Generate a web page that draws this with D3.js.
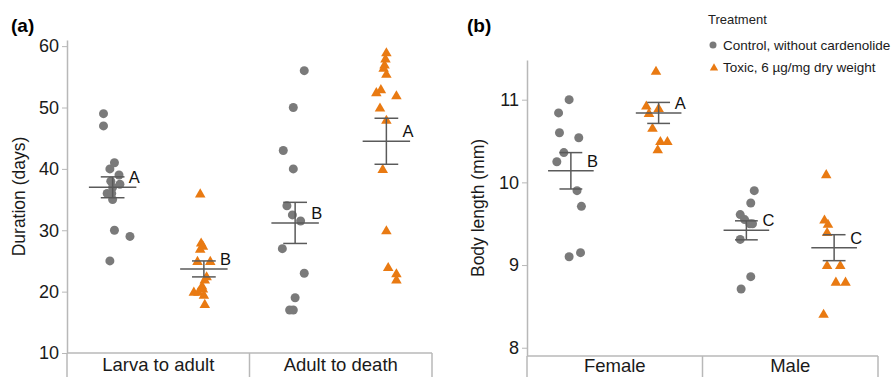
<!DOCTYPE html>
<html>
<head>
<meta charset="utf-8">
<script src="https://cdn.jsdelivr.net/npm/d3@7"></script>
<style>
  body { margin: 0; background: #fff; }
  svg { display: block; font-family: "Liberation Sans", Arial, Helvetica, sans-serif; }
</style>
</head>
<body>
<div id="chart"></div>
<script>
const treatments = ["Control, without cardenolide", "Toxic, 6 µg/mg dry weight"];

// (a) duration
const stageCategories = ["Larva to adult", "Adult to death"];
const larvaControl = [49, 47, 41, 40, 39, 38, 37.5, 37, 36, 36, 35, 30, 29, 25];
const larvaToxic = [36, 28, 27.5, 27, 25, 25, 22.5, 22, 21, 20.5, 20, 20, 19.5, 18];
const adultControl = [56, 50, 43, 40, 34, 32.5, 31.5, 27, 23, 19, 17, 17];
const adultToxic = [59, 58, 57, 56.5, 55.5, 53, 52.5, 52, 50, 48, 40, 30, 24, 23, 22];
const larvaControlJitter = [-0.5, -0.5, 0.1, -0.15, 0.35, -0.1, 0.4, 0, -0.3, -0.05, 0, 0.1, 0.95, -0.15];
const larvaToxicJitter = [-0.2, -0.15, -0.05, -0.2, -0.35, 0.35, 0.15, 0.05, -0.1, -0.05, -0.55, -0.3, 0, 0.05];
const adultControlJitter = [0.5, -0.1, -0.65, -0.1, -0.45, -0.15, 0.3, -0.7, 0.5, 0, -0.3, -0.1];
const adultToxicJitter = [0, -0.05, -0.1, -0.15, 0, -0.3, -0.55, 0.55, -0.35, 0, -0.2, 0, 0.1, 0.55, 0.55];
const durationMeans = [[37.0, 23.7], [31.2, 44.5]];
const durationSE = [[1.7, 1.3], [3.35, 3.75]];
const durationLetters = [["A", "B"], ["B", "A"]];
const durationTicks = [10, 20, 30, 40, 50, 60];

// (b) body length
const sexCategories = ["Female", "Male"];
const femaleControl = [11.0, 10.84, 10.6, 10.54, 10.36, 10.25, 9.9, 9.71, 9.15, 9.1];
const femaleToxic = [11.35, 10.93, 10.9, 10.84, 10.66, 10.5, 10.5, 10.4];
const maleControl = [9.9, 9.75, 9.61, 9.55, 9.5, 9.5, 9.31, 8.86, 8.71];
const maleToxic = [10.1, 9.55, 9.5, 9.4, 9.0, 9.0, 8.8, 8.8, 8.41];
const femaleControlJitter = [-0.1, -0.7, -0.65, 0.45, -0.4, -0.8, 0.35, 0.6, 0.55, -0.1];
const femaleToxicJitter = [-0.15, -0.7, 0, -0.55, -0.35, 0.1, 0.5, -0.05];
const maleControlJitter = [0.45, 0.25, -0.35, -0.1, 0.2, 0.35, -0.35, 0.25, -0.3];
const maleToxicJitter = [-0.45, -0.55, -0.35, -0.4, -0.4, 0.35, 0.1, 0.65, -0.6];
const bodyMeans = [[10.14, 10.84], [9.42, 9.21]];
const bodySE = [[0.22, 0.127], [0.115, 0.157]];
const bodyLetters = [["B", "A"], ["C", "C"]];
const bodyTicks = [8, 9, 10, 11];

const width = 894, height = 377;
const colors = ["#7a7a7a", "#e97a12"];
const axisGrey = "#b8b8b8";
const barGrey = "#5a5a5a";

const svg = d3.select("#chart").append("svg")
  .attr("width", width)
  .attr("height", height);

function drawPanel(opts) {
  const g = svg.append("g");
  const x = d3.scaleBand().domain(opts.categories).range([opts.left, opts.right]);
  const sub = d3.scalePoint().domain(treatments).range([0, x.bandwidth()]).padding(0.5);
  const y = d3.scaleLinear().domain(opts.yDomain).range([opts.bottom, opts.top]);
  const bw = x.bandwidth();
  const jit = bw * 0.1;

  // y axis
  const yAxis = g.append("g")
    .attr("transform", `translate(${opts.left},0)`)
    .call(d3.axisLeft(y).tickValues(opts.ticks).tickFormat(d3.format("d"))
      .tickSize(5).tickSizeOuter(0).tickPadding(3));
  yAxis.select(".domain").attr("stroke", axisGrey).attr("stroke-width", 1.5);
  yAxis.selectAll(".tick line").attr("stroke", axisGrey);
  yAxis.selectAll(".tick text")
    .attr("font-size", "18px")
    .attr("font-family", "Liberation Sans, Arial, sans-serif")
    .attr("fill", "#1a1a1a");

  // category box under the plot
  g.append("line")
    .attr("x1", opts.left).attr("x2", opts.right)
    .attr("y1", opts.bottom).attr("y2", opts.bottom)
    .attr("stroke", axisGrey).attr("stroke-width", 1.5);
  const edges = opts.categories.map(c => x(c)).concat([opts.right]);
  g.selectAll(".sep").data(edges).enter().append("line")
    .attr("x1", d => d).attr("x2", d => d)
    .attr("y1", opts.bottom).attr("y2", height)
    .attr("stroke", axisGrey).attr("stroke-width", 1.5);
  g.selectAll(".cat").data(opts.categories).enter().append("text")
    .attr("x", d => x(d) + bw / 2)
    .attr("y", opts.catY)
    .attr("text-anchor", "middle")
    .attr("font-size", "18.5px")
    .attr("fill", "#1a1a1a")
    .text(d => d);

  // y title
  g.append("text")
    .attr("transform", `translate(${opts.titleX},${(opts.top + opts.bottom) / 2}) rotate(-90)`)
    .attr("text-anchor", "middle")
    .attr("font-size", "17.5px")
    .attr("fill", "#1a1a1a")
    .text(opts.title);

  // panel label
  g.append("text")
    .attr("x", opts.labelX).attr("y", 32)
    .attr("font-size", "19px")
    .attr("font-weight", "bold")
    .text(opts.label);

  // points
  opts.categories.forEach((cat, ci) => {
    treatments.forEach((t, ti) => {
      const cx = x(cat) + sub(t);
      const vals = opts.values[ci][ti];
      const jits = opts.jitter[ci][ti];
      const pts = vals.map((v, i) => ({ v, j: jits[i] }));
      if (ti === 0) {
        g.selectAll(null).data(pts).enter().append("circle")
          .attr("cx", d => cx + d.j * jit)
          .attr("cy", d => y(d.v))
          .attr("r", 4.5)
          .attr("fill", colors[0]);
      } else {
        g.selectAll(null).data(pts).enter().append("path")
          .attr("d", d3.symbol(d3.symbolTriangle, 48))
          .attr("transform", d => `translate(${cx + d.j * jit},${y(d.v) + 1})`)
          .attr("fill", colors[1]);
      }

      // mean and standard error
      const m = opts.means[ci][ti], se = opts.se[ci][ti];
      const eg = g.append("g").attr("stroke", barGrey).attr("stroke-width", 1.5);
      eg.append("line")
        .attr("x1", cx - bw * 0.13).attr("x2", cx + bw * 0.13)
        .attr("y1", y(m)).attr("y2", y(m));
      eg.append("line")
        .attr("x1", cx).attr("x2", cx)
        .attr("y1", y(m + se)).attr("y2", y(m - se));
      [m + se, m - se].forEach(v => {
        eg.append("line")
          .attr("x1", cx - bw * 0.065).attr("x2", cx + bw * 0.065)
          .attr("y1", y(v)).attr("y2", y(v));
      });
      g.append("text")
        .attr("x", cx + 16)
        .attr("y", y(m) - 4)
        .attr("font-size", "16.5px")
        .attr("fill", "#111")
        .text(opts.letters[ci][ti]);
    });
  });
}

drawPanel({
  categories: stageCategories,
  left: 67, right: 432, top: 40, bottom: 353, catY: 371,
  yDomain: [10, 61], ticks: durationTicks,
  title: "Duration (days)", titleX: 25,
  label: "(a)", labelX: 11,
  values: [[larvaControl, larvaToxic], [adultControl, adultToxic]],
  jitter: [[larvaControlJitter, larvaToxicJitter], [adultControlJitter, adultToxicJitter]],
  means: durationMeans, se: durationSE, letters: durationLetters
});

drawPanel({
  categories: sexCategories,
  left: 527, right: 878, top: 60, bottom: 356, catY: 372,
  yDomain: [7.9, 11.48], ticks: bodyTicks,
  title: "Body length (mm)", titleX: 484,
  label: "(b)", labelX: 467,
  values: [[femaleControl, femaleToxic], [maleControl, maleToxic]],
  jitter: [[femaleControlJitter, femaleToxicJitter], [maleControlJitter, maleToxicJitter]],
  means: bodyMeans, se: bodySE, letters: bodyLetters
});

// legend
const legend = svg.append("g").attr("transform", "translate(708,0)");
legend.append("text")
  .attr("x", 0).attr("y", 24)
  .attr("font-size", "13px")
  .attr("fill", "#222")
  .text("Treatment");
legend.append("circle")
  .attr("cx", 5).attr("cy", 45).attr("r", 3.5)
  .attr("fill", colors[0]);
legend.append("path")
  .attr("d", d3.symbol(d3.symbolTriangle, 30))
  .attr("transform", "translate(6,68)")
  .attr("fill", colors[1]);
legend.selectAll(".lt").data(treatments).enter().append("text")
  .attr("x", 15)
  .attr("y", (d, i) => 50 + i * 22)
  .attr("font-size", "13.5px")
  .attr("fill", "#1a1a1a")
  .text(d => d);
</script>
</body>
</html>
